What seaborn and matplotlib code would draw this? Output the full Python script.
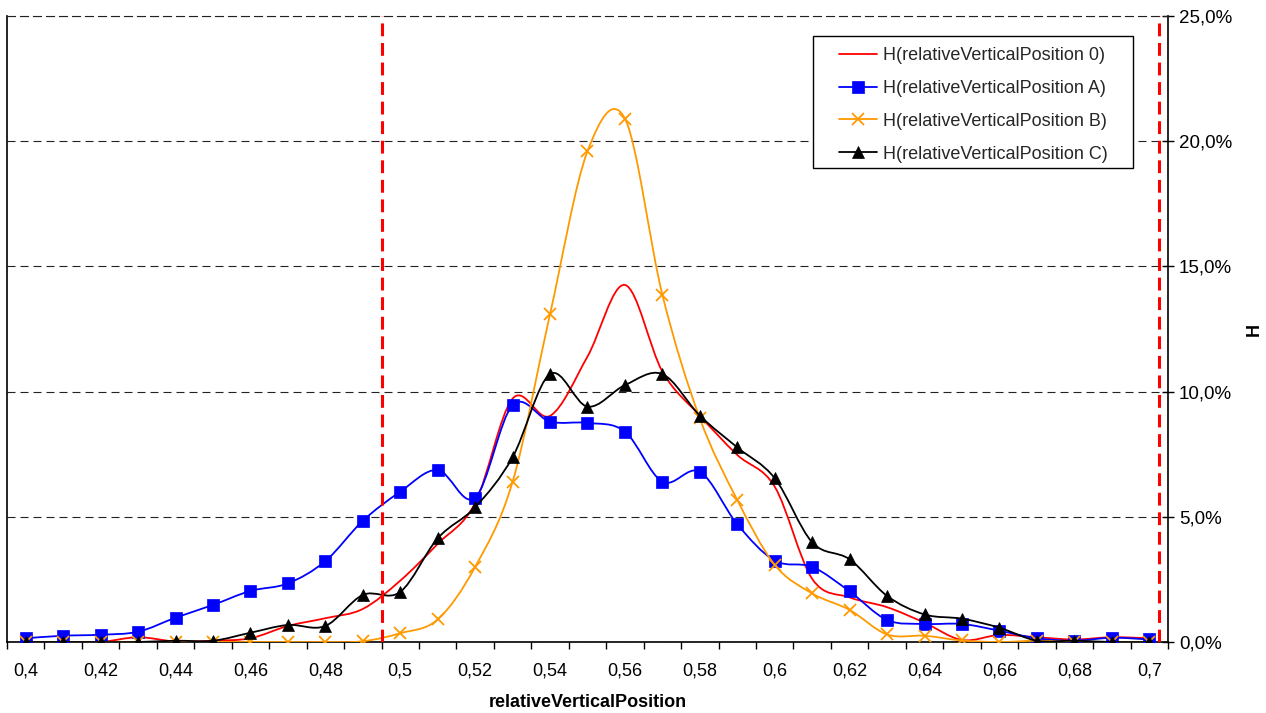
import matplotlib.pyplot as plt
import numpy as np
import seaborn as sns
from matplotlib.lines import Line2D
from matplotlib.patches import PathPatch, Rectangle
from matplotlib.path import Path
from matplotlib.ticker import FuncFormatter

# ─────────────────────────────────────────────
# Data (H in %)
# ─────────────────────────────────────────────
positions = [0.40, 0.41, 0.42, 0.43, 0.44, 0.45, 0.46, 0.47, 0.48, 0.49,
             0.50, 0.51, 0.52, 0.53, 0.54, 0.55, 0.56, 0.57, 0.58, 0.59,
             0.60, 0.61, 0.62, 0.63, 0.64, 0.65, 0.66, 0.67, 0.68, 0.69, 0.70]

h_0 = [0.00, 0.00, 0.00, 0.19, 0.02, 0.05, 0.15, 0.64, 0.95, 1.32,
       2.45, 3.92, 5.55, 9.72, 9.03, 11.40, 14.26, 10.80, 9.04, 7.47,
       6.20, 2.52, 1.78, 1.39, 0.77, 0.08, 0.28, 0.19, 0.10, 0.19, 0.15]

h_a = [0.15, 0.25, 0.29, 0.41, 0.97, 1.48, 2.04, 2.34, 3.23, 4.84,
       6.00, 6.87, 5.76, 9.46, 8.80, 8.75, 8.40, 6.40, 6.80, 4.70,
       3.25, 3.00, 2.02, 0.88, 0.72, 0.72, 0.45, 0.15, 0.05, 0.17, 0.10]

h_b = [0.00, 0.00, 0.00, 0.00, 0.00, 0.00, 0.00, 0.00, 0.00, 0.03,
       0.35, 0.90, 3.00, 6.40, 13.10, 19.60, 20.90, 13.86, 8.93, 5.67,
       3.08, 1.94, 1.28, 0.30, 0.25, 0.06, 0.00, 0.05, 0.00, 0.00, 0.00]

h_c = [0.00, 0.00, 0.00, 0.00, 0.05, 0.05, 0.37, 0.68, 0.64, 1.88,
       2.00, 4.14, 5.38, 7.38, 10.70, 9.40, 10.26, 10.70, 9.04, 7.77,
       6.54, 3.98, 3.30, 1.84, 1.10, 0.93, 0.57, 0.05, 0.05, 0.00, 0.00]

labels = ["H(relativeVerticalPosition 0)", "H(relativeVerticalPosition A)",
          "H(relativeVerticalPosition B)", "H(relativeVerticalPosition C)"]
colors = ["#FF0000", "#0000FF", "#FF9900", "#000000"]
markers = [None, "s", "x", "^"]

# window limits (red dashed lines)
bounds = [0.495, 0.7026]


def smooth_path(x, y):
    """Excel-style smoothed line: cubic Bezier through every point."""
    pts = np.column_stack([x, y])
    n = len(pts)
    verts = [pts[0]]
    codes = [Path.MOVETO]
    for i in range(n - 1):
        p_prev = pts[max(i - 1, 0)]
        p0, p1 = pts[i], pts[i + 1]
        p_next = pts[min(i + 2, n - 1)]
        verts += [p0 + (p1 - p_prev) / 6, p1 - (p_next - p0) / 6, p1]
        codes += [Path.CURVE4] * 3
    return Path(verts, codes)


sns.set_theme(style="white")
plt.rcParams["font.family"] = ["Liberation Sans", "DejaVu Sans"]

W, H = 1266, 713
fig = plt.figure(figsize=(W / 100, H / 100), dpi=100)
ax = fig.add_axes([7 / W, 1 - 642 / H, 1161 / W, 626 / H])

series = [h_0, h_a, h_b, h_c]
handles = []
for k, (vals, col, mk) in enumerate(zip(series, colors, markers)):
    ax.add_patch(PathPatch(smooth_path(positions, vals), fill=False,
                           edgecolor=col, lw=1.3, zorder=3 + k))
    msize = 9 if mk in ("^", "x") else 8
    mew = 1.3 if mk == "x" else 0.5
    if mk is not None:
        sns.lineplot(x=positions, y=vals, ax=ax, color=col, marker=mk,
                     linestyle="none", markersize=msize,
                     markeredgecolor=col, markeredgewidth=mew,
                     zorder=3.5 + k, legend=False)
    handles.append(Line2D([], [], color=col, lw=1.3, marker=mk,
                          markersize=msize, markeredgecolor=col,
                          markeredgewidth=mew))

for b in bounds:
    ax.axvline(b, color="#FF0000", lw=2.2, linestyle=(0, (4.2, 2.2)), zorder=8)

# axes
ax.set_xlim(0.395, 0.705)
ax.set_ylim(0, 25)

ax.set_xticks(positions[::2])
ax.set_xticklabels([f"{p:g}".replace(".", ",") for p in positions[::2]])
ax.set_xticks(np.arange(0.395, 0.7051, 0.01), minor=True)
ax.tick_params(axis="x", which="major", length=0, labelsize=13, pad=15,
               colors="black")
ax.tick_params(axis="x", which="minor", bottom=True, direction="out",
               length=5, width=1, color="black")

ax.yaxis.tick_right()
ax.yaxis.set_label_position("right")
ax.set_yticks([0, 5, 10, 15, 20, 25])
ax.yaxis.set_major_formatter(FuncFormatter(lambda v, _: f"{v:.1f}%".replace(".", ",")))
ax.tick_params(axis="y", right=True, direction="inout", length=8, width=1,
               labelsize=13.5, pad=4, colors="black")

ax.yaxis.grid(True, color="#222222", lw=0.8, linestyle=(0, (7.2, 4.5)))
ax.xaxis.grid(False)

for side in ["left", "right", "bottom"]:
    ax.spines[side].set_color("black")
    ax.spines[side].set_linewidth(1.2)
ax.spines["top"].set_color("#222222")
ax.spines["top"].set_linewidth(0.8)
ax.spines["top"].set_linestyle((0, (7.2, 4.5)))

ax.set_xlabel("relativeVerticalPosition", fontsize=13, fontweight="bold",
              labelpad=10, color="black")
ax.set_ylabel("H", fontsize=13, fontweight="bold", labelpad=10, color="black")

# legend with an Excel-like box
ax.add_patch(Rectangle((813 / W, 1 - 168 / H), 320 / W, 132 / H,
                       transform=fig.transFigure, facecolor="white",
                       edgecolor="black", lw=1.0, zorder=9, clip_on=False))
leg = ax.legend(handles, labels, loc="upper left",
                bbox_to_anchor=(839 / W, 1 - 47 / H),
                bbox_transform=fig.transFigure, frameon=False, fontsize=13,
                handlelength=2.1, handletextpad=0.35, labelspacing=0.88,
                borderpad=0, borderaxespad=0)
leg.set_zorder(10)

fig.savefig("out.png", dpi=100)
